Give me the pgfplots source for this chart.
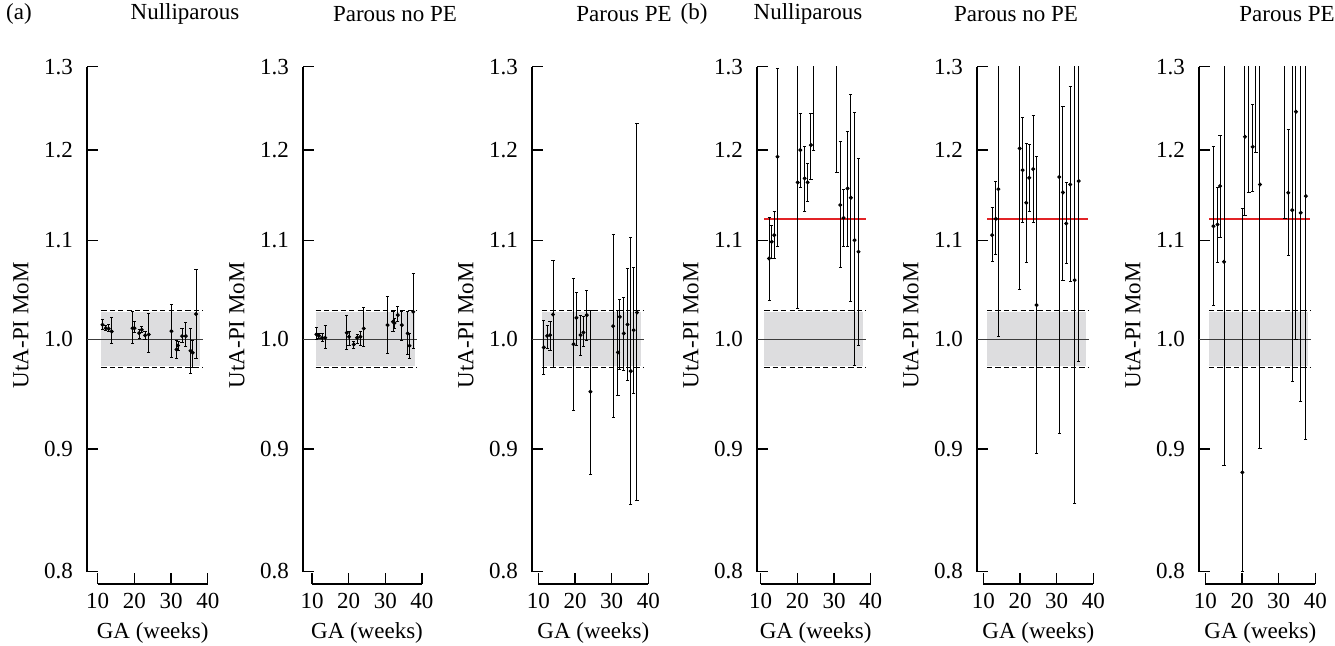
\documentclass[border=0pt]{standalone}
\usepackage{fontspec}
\setmainfont{Liberation Serif}
\usepackage{pgfplots}
\usepackage{pgfplotstable}
\pgfplotsset{compat=1.18}
\definecolor{bandgray}{RGB}{221,221,223}
\definecolor{zeroline}{RGB}{60,60,60}
\definecolor{redline}{RGB}{226,35,38}

% panel (a) Nulliparous
\pgfplotstableread{
x y lo hi
11.3 1.0142 1.0097 1.0194
12.2 1.0109 1.0084 1.0135
13.0 1.0103 1.0077 1.0142
13.8 1.0077 0.9958 1.0214
19.5 1.0109 0.9958 1.0273
20.0 1.0109 1.0064 1.0175
21.3 1.0061 1.0013 1.0097
22.0 1.0093 1.0064 1.0129
22.9 1.0039 1.0000 1.0077
23.9 1.0048 0.9873 1.0250
30.1 1.0080 0.9832 1.0339
31.5 0.9904 0.9822 0.9987
31.9 0.9942 0.9892 0.9981
33.0 1.0032 0.9968 1.0110
34.0 1.0032 0.9936 1.0162
35.3 0.9892 0.9675 1.0110
35.9 0.9873 0.9737 0.9990
36.8 1.0247 0.9816 1.0696
}\tA
% panel (a) Parous no PE
\pgfplotstableread{
x y lo hi
11.2 1.0048 1.0003 1.0113
11.9 1.0035 1.0010 1.0058
12.8 1.0016 0.9978 1.0058
13.6 1.0016 0.9914 1.0132
19.5 1.0064 0.9907 1.0230
20.1 1.0026 0.9939 1.0080
21.4 0.9952 0.9914 0.9984
22.3 1.0016 0.9962 1.0048
23.2 1.0026 0.9946 1.0074
24.1 1.0106 0.9930 1.0310
30.6 1.0139 0.9866 1.0419
32.1 1.0171 1.0080 1.0270
32.5 1.0160 1.0106 1.0204
33.4 1.0237 1.0170 1.0320
34.5 1.0139 0.9994 1.0276
36.1 1.0058 0.9857 1.0276
36.6 0.9939 0.9819 1.0058
37.6 1.0270 0.9914 1.0650
}\tB
% panel (a) Parous PE
\pgfplotstableread{
x y lo hi
11.5 0.9923 0.9669 1.0188
12.4 1.0035 0.9914 1.0139
13.2 1.0042 0.9898 1.0178
14.0 1.0243 0.9731 1.0786
19.6 0.9955 0.9340 1.0604
20.4 1.0210 0.9946 1.0462
21.5 1.0042 0.9844 1.0237
22.3 1.0068 0.9930 1.0220
23.2 1.0237 0.9994 1.0486
24.2 0.9510 0.8786 1.0286
30.4 1.0129 0.9280 1.1062
31.7 0.9876 0.9479 1.0286
32.2 1.0220 0.9719 1.0395
33.3 1.0058 0.9710 1.0409
34.3 1.0145 0.9617 1.0707
35.2 0.9700 0.8533 1.1030
36.0 1.0090 0.9494 1.0717
36.9 1.0263 0.8563 1.2309
}\tC
% panel (b) Nulliparous
\pgfplotstableread{
x y lo hi
12.3 1.0810 1.0386 1.1240
13.0 1.0985 1.0810 1.1162
13.7 1.1055 1.0810 1.1306
14.6 1.1920 1.0932 1.2980
20.1 1.1630 1.0302 1.4000
20.8 1.1997 1.1570 1.2427
22.0 1.1675 1.1313 1.2035
22.8 1.1630 1.1415 1.1844
23.7 1.2055 1.1667 1.2427
24.5 1.4000 1.1997 1.5000
30.8 1.4000 1.1740 1.5000
31.7 1.1380 1.0713 1.2100
32.6 1.1240 1.0940 1.1555
33.7 1.1563 1.0930 1.2218
34.6 1.1460 1.0369 1.2657
35.6 1.1002 0.9756 1.2439
36.7 1.0880 0.9946 1.1900
}\tD
% panel (b) Parous no PE
\pgfplotstableread{
x y lo hi
12.4 1.1055 1.0775 1.1350
13.4 1.1230 1.0855 1.1645
14.1 1.1555 1.0026 1.4000
19.9 1.2016 1.0496 1.4000
20.7 1.1768 1.1187 1.2375
21.7 1.1404 1.0769 1.2074
22.5 1.1682 1.1313 1.2062
23.6 1.1780 1.1187 1.2400
24.5 1.0336 0.8960 1.1920
30.7 1.1690 0.9136 1.4000
31.7 1.1518 1.0587 1.2507
32.6 1.1180 1.0758 1.1630
33.7 1.1607 1.0577 1.2750
34.9 1.0587 0.8540 1.4000
36.0 1.1645 0.9788 1.4000
}\tE
% panel (b) Parous PE
\pgfplotstableread{
x y lo hi
12.2 1.1151 1.0329 1.2035
13.3 1.1169 1.0769 1.1574
14.0 1.1589 1.1027 1.2163
15.1 1.0775 0.8856 1.4000
20.1 0.8800 0.8000 1.1340
20.8 1.2152 1.1270 1.4000
21.9 1.4000 1.1518 1.5000
22.9 1.2035 1.1533 1.2536
23.8 1.4000 1.1970 1.5000
24.9 1.1607 0.9005 1.4000
31.7 1.4000 1.1234 1.5000
32.6 1.1515 1.0845 1.2242
33.7 1.1324 0.9600 1.4000
34.7 1.2448 1.0000 1.4000
36.0 1.1295 0.9419 1.4000
37.4 1.1478 0.9083 1.4000
}\tF

% #1 left edge, #2 width, #3 xmin, #4 table, #5 xlabel pos, #6 extra plot, #7 x-axis start shortening
\newcommand\panel[7]{%
\begin{axis}[ymode=log, ymin=0.7905, ymax=1.3, xmin=#3, xmax=40.5,
    scale only axis, height=258.7pt, width=#2,
    at={(#1,31pt)}, anchor=south west,
    axis lines*=left,
    x axis line style={line width=0.8pt, shorten <=#7, shorten >=0.92pt},
    y axis line style={line width=0.8pt, shorten <=5.95pt},
    tick align=inside, major tick length=5.5pt,
    tick style={black, line width=0.7pt},
    xtick={10,20,30,40},
    xticklabels={10,20,30,40},
    ytick={0.8,0.9,1.0,1.1,1.2,1.3},
    yticklabels={0.8,0.9,1.0,1.1,1.2,1.3},
    yminorticks=false, xminorticks=false,
    ticklabel style={font=\fontsize{11.5}{13}\selectfont},
    xticklabel shift=1pt, yticklabel shift=3.5pt,
    clip mode=individual,
    xlabel={GA (weeks)}, ylabel={UtA-PI MoM},
    label style={font=\fontsize{11.5}{13}\selectfont},
    ylabel style={at={([xshift=-33pt]axis description cs:0,0.5)}, anchor=center},
    xlabel style={at={(ticklabel cs:#5)}}]
\addplot[fill=bandgray, draw=none] coordinates {(11,0.9745) (38,0.9745) (38,1.027) (11,1.027)} -- cycle;
\addplot[black, line width=0.5pt, dash pattern=on 2.6pt off 1.6pt] coordinates {(11,1.0285) (38.7,1.0285)};
\addplot[black, line width=0.5pt, dash pattern=on 2.6pt off 1.6pt] coordinates {(11,0.9735) (38.7,0.9735)};
\addplot[zeroline, line width=0.75pt] coordinates {(#3,1) (38.7,1)};
#6
\addplot[black, only marks, mark=*, mark size=0.8pt,
    error bars/y dir=both, error bars/y explicit,
    error bars/error bar style={line width=0.5pt, black},
    error bars/error mark=-,
    error bars/error mark options={rotate=90, mark size=0.8pt, line width=0.5pt, black}]
    table[x=x, y=y, y error plus expr=\thisrow{hi}-\thisrow{y}, y error minus expr=\thisrow{y}-\thisrow{lo}] {#4};
\end{axis}}

\begin{document}
\begin{tikzpicture}
\useasboundingbox (0,0) rectangle (667.5pt,323pt);
\panel{43.5pt}{61.3pt}{7.07}{\tA}{0.536}{}{5.37pt}
\panel{151.5pt}{60.4pt}{7.54}{\tB}{0.530}{}{4.51pt}
\panel{266pt}{59.1pt}{8.27}{\tC}{0.519}{}{3.17pt}
\panel{378.5pt}{57.75pt}{9.0}{\tD}{0.508}{\addplot[redline, line width=1pt] coordinates {(11,1.123) (38.6,1.123)};}{1.83pt}
\panel{488.5pt}{59.1pt}{8.27}{\tE}{0.519}{\addplot[redline, line width=1pt] coordinates {(11,1.123) (38.6,1.123)};}{3.17pt}
\panel{599.5pt}{59.1pt}{8.27}{\tF}{0.519}{\addplot[redline, line width=1pt] coordinates {(11,1.123) (38.6,1.123)};}{3.17pt}
\begin{scope}[font=\fontsize{11.5}{13}\selectfont]
\node at (9.5pt,316pt) {(a)};
\node at (347pt,316pt) {(b)};
\node at (92.5pt,316pt) {Nulliparous};
\node at (197.5pt,316pt) {Parous no PE};
\node at (312pt,316pt) {Parous PE};
\node at (404pt,316pt) {Nulliparous};
\node at (508pt,316pt) {Parous no PE};
\node at (643.5pt,316pt) {Parous PE};
\end{scope}
\end{tikzpicture}
\end{document}
